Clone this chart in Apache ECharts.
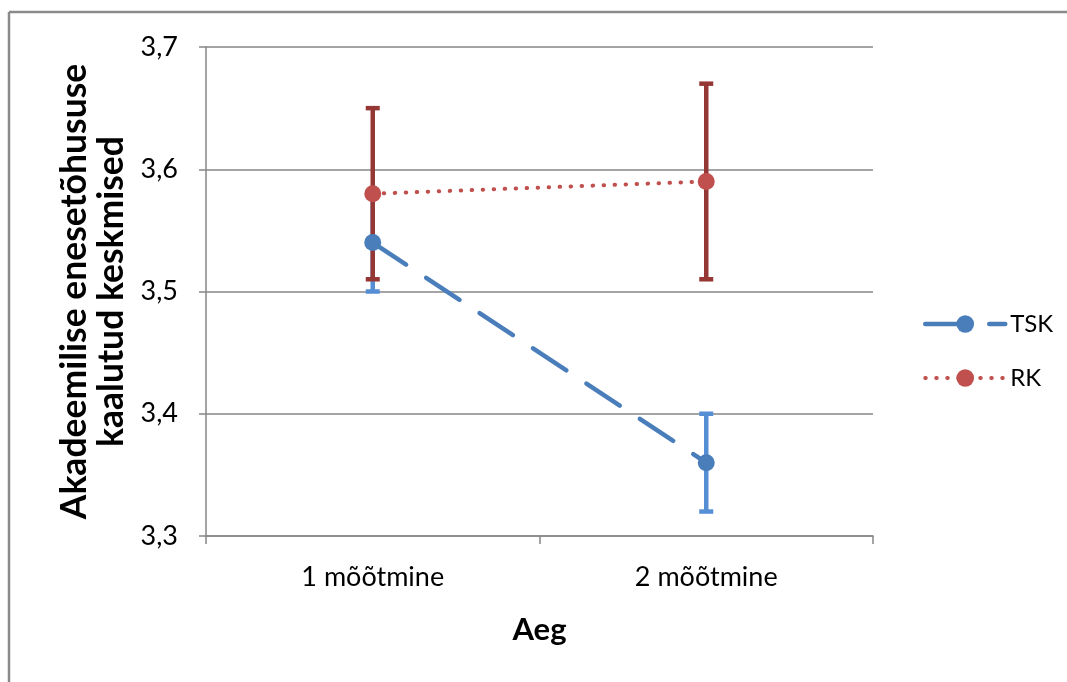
<!DOCTYPE html>
<html><head><meta charset="utf-8">
<script src="https://cdn.jsdelivr.net/npm/echarts@6/dist/echarts.min.js"></script>
<style>html,body{margin:0;padding:0;background:#fff}#c{width:1067px;height:682px}</style>
</head><body><div id="c"></div>
<script>
const categories = ['1 mõõtmine', '2 mõõtmine'];
const tskValues = [3.54, 3.36];
const tskErrors = [0.04, 0.04];
const rkValues = [3.58, 3.59];
const rkErrors = [0.07, 0.08];
const yTicks = [3.3, 3.4, 3.5, 3.6, 3.7];

const FONT = 'Lato';
const chart = echarts.init(document.getElementById('c'));

function errData(vals, errs) {
  return vals.map((v, i) => [i, v - errs[i], v + errs[i]]);
}
function errRender(color) {
  return function (params, api) {
    const x = api.value(0);
    const lo = api.coord([x, api.value(1)]);
    const hi = api.coord([x, api.value(2)]);
    const w = 7;
    const st = { stroke: color, lineWidth: 4.5 };
    return {
      type: 'group',
      children: [
        { type: 'line', shape: { x1: lo[0], y1: lo[1], x2: hi[0], y2: hi[1] }, style: st },
        { type: 'line', shape: { x1: lo[0] - w, y1: lo[1], x2: lo[0] + w, y2: lo[1] }, style: st },
        { type: 'line', shape: { x1: hi[0] - w, y1: hi[1], x2: hi[0] + w, y2: hi[1] }, style: st }
      ]
    };
  };
}

chart.setOption({
  animation: false,
  graphic: [
    { type: 'line', shape: { x1: 9, y1: 12, x2: 1067, y2: 12 }, style: { stroke: '#8a8a8a', lineWidth: 2.5 } },
    { type: 'line', shape: { x1: 9, y1: 12, x2: 9, y2: 682 }, style: { stroke: '#8a8a8a', lineWidth: 2.5 } }
  ],
  grid: { left: 206, right: 194, top: 47, bottom: 146 },
  legend: {
    orient: 'vertical',
    left: 918,
    top: 307,
    itemWidth: 80,
    itemHeight: 22,
    itemGap: 30,
    data: [
      { name: 'TSK', lineStyle: { width: 4.5 } },
      { name: 'RK', lineStyle: { width: 4 } }
    ],
    textStyle: { fontFamily: FONT, fontSize: 24, color: '#000' }
  },
  xAxis: {
    type: 'category',
    data: categories,
    boundaryGap: true,
    name: 'Aeg',
    nameLocation: 'middle',
    nameGap: 78,
    nameTextStyle: { fontFamily: FONT, fontSize: 31, fontWeight: 'bold', color: '#000' },
    axisLine: { lineStyle: { color: '#868686', width: 1.5 } },
    axisTick: { show: true, length: 8, lineStyle: { color: '#868686', width: 1.5 } },
    axisLabel: { fontFamily: FONT, fontSize: 27, color: '#000', margin: 28 }
  },
  yAxis: {
    type: 'value',
    min: 3.3,
    max: 3.7,
    interval: 0.1,
    name: 'Akadeemilise enesetõhususe\nkaalutud keskmised',
    nameLocation: 'middle',
    nameGap: 70,
    nameTextStyle: { fontFamily: FONT, fontSize: 35.5, fontWeight: 'bold', color: '#000', lineHeight: 37 },
    axisLine: { show: true, lineStyle: { color: '#868686', width: 1.5 } },
    axisTick: { show: true, length: 7, lineStyle: { color: '#868686', width: 1.5 } },
    splitLine: { lineStyle: { color: '#868686', width: 1.5 } },
    axisLabel: {
      fontFamily: FONT, fontSize: 27, color: '#000', margin: 28,
      formatter: v => (yTicks.find(t => Math.abs(t - v) < 1e-6) || v).toFixed(1).replace('.', ',')
    }
  },
  series: [
    {
      type: 'custom', name: 'tskErr', data: errData(tskValues, tskErrors),
      renderItem: errRender('#558ED5'), z: 1, silent: true, encode: { x: 0, y: [1, 2] }
    },
    {
      type: 'custom', name: 'rkErr', data: errData(rkValues, rkErrors),
      renderItem: errRender('#953735'), z: 2, silent: true, encode: { x: 0, y: [1, 2] }
    },
    {
      type: 'line', name: 'TSK', data: tskValues, z: 4,
      symbol: 'circle', symbolSize: 17,
      itemStyle: { color: '#4A7EBB' },
      lineStyle: { color: '#4A7EBB', width: 4.5, type: [40, 24], cap: 'round' }
    },
    {
      type: 'line', name: 'RK', data: rkValues, z: 3,
      symbol: 'circle', symbolSize: 17,
      itemStyle: { color: '#C0504D' },
      lineStyle: { color: '#C0504D', width: 4, type: [0.5, 10.5], cap: 'round' }
    }
  ]
});
</script></body></html>
